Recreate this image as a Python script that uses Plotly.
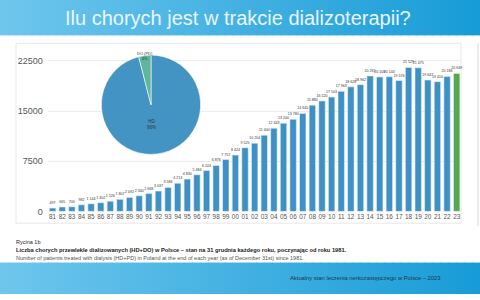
import plotly.graph_objects as go

years = ["81","82","83","84","85","86","87","88","89","90","91","92","93","94","95","96","97","98","99",
         "00","01","02","03","04","05","06","07","08","09","10","11","12","13","14","15","16","17","18","19","20","21","22","23"]
patients = [497, 665, 700, 982, 1144, 1302, 1526, 1807, 2092, 2340, 2668, 3037, 3586, 4213, 4830, 5484, 6103, 6876, 7752,
            8424, 9525, 10204, 11400, 12443, 13200, 13780, 14645, 15880, 16520, 17103, 17963, 18628, 18962, 20261, 20109,
            20144, 19576, 21529, 21475, 19647, 19410, 20186, 20639]
pie_labels = ["HD", "DO (PD)"]
pie_values = [96, 4]
y_ticks = [0, 7500, 15000, 22500]

W, H = 480, 300
def px(x): return x / W
def py(y): return 1 - y / H

bar_colors = ["#3f91c5"] * (len(years) - 1) + ["#58a84f"]
bar_text = [f"{v:,}".replace(",", " ") for v in patients]

fig = go.Figure()
fig.add_trace(go.Bar(
    x=years, y=patients, marker=dict(color=bar_colors, line=dict(color="#e4eef5", width=0.6)),
    text=bar_text, textposition="outside", cliponaxis=False, constraintext="none",
    textfont=dict(size=3.6, color="#333333", family="Liberation Sans"),
    showlegend=False, hoverinfo="x+y"))

fig.add_trace(go.Pie(
    labels=pie_labels, values=pie_values, sort=False, direction="clockwise", rotation=0,
    marker=dict(colors=["#4494c3", "#5eb69c"], line=dict(color="#ffffff", width=0.6)),
    textinfo="none", showlegend=False,
    domain=dict(x=[px(99), px(203)], y=[py(157), py(56)])))

shapes = []
# gradient banners
n = 60
c0, c1 = (110, 198, 237), (24, 156, 215)
for i in range(n):
    t = i / (n - 1)
    col = "rgb(%d,%d,%d)" % tuple(round(a + (b - a) * t) for a, b in zip(c0, c1))
    for (y0, y1) in [(0, 36), (267, 299)]:
        shapes.append(dict(type="rect", xref="paper", yref="paper", layer="below",
                           x0=px(i * W / n), x1=px((i + 1) * W / n + 0.6), y0=py(y1), y1=py(y0),
                           line=dict(width=0), fillcolor=col))
# chart box
shapes.append(dict(type="rect", xref="paper", yref="paper", layer="below",
                   x0=px(16), x1=px(461), y0=py(227), y1=py(44),
                   line=dict(color="#e8e8e8", width=1), fillcolor="rgba(0,0,0,0)"))
shapes.append(dict(type="line", xref="paper", yref="paper", x0=px(478), x1=px(478), y0=py(230), y1=py(44),
                   line=dict(color="#d8d8d8", width=1)))

def note(text, x, y, size, color, xanchor="center"):
    return dict(text=text, x=px(x), y=py(y), xref="paper", yref="paper", xanchor=xanchor, yanchor="middle",
                showarrow=False, font=dict(size=size, color=color, family="Liberation Sans"))

ann = [
    note("Ilu chorych jest w trakcie dializoterapii?", 238, 18, 20, "#eaf6fc"),
    note("Rycina 1b", 14, 246, 5.5, "#222222", "left"),
    note("<b>Liczba chorych przewlekle dializowanych (HD+DO) w Polsce – stan na 31 grudnia każdego roku, poczynając od roku 1981.</b>",
         14, 254, 5.7, "#222222", "left"),
    note("Number of patients treated with dialysis (HD+PD) in Poland at the end of each year (as of December 31st) since 1981.",
         14, 262, 5.5, "#555555", "left"),
    note("Aktualny stan leczenia nerkozastępczego w Polsce – 2023", 443, 283, 5.8, "#1e3550", "right"),
    note(f"{pie_labels[0]}<br>{pie_values[0]}%", 151, 127, 4.5, "#333333"),
    note(f"{pie_labels[1]}<br>{pie_values[1]}%", 145, 57, 4, "#333333"),
]

fig.update_layout(
    width=W, height=H, margin=dict(l=0, r=0, t=0, b=0),
    paper_bgcolor="white", plot_bgcolor="rgba(0,0,0,0)",
    bargap=0.33, shapes=shapes, annotations=ann,
    xaxis=dict(domain=[px(47.8), px(461.5)], type="category", showgrid=False, ticks="",
               tickfont=dict(size=6.4, color="#555555", family="Liberation Sans"), showline=False),
    yaxis=dict(domain=[py(215), py(50)], range=[0, 22500 * 165 / 153], tickvals=y_ticks,
               ticktext=[str(v) for v in y_ticks], showgrid=True, gridcolor="#ececec", gridwidth=1,
               zeroline=False, ticks="", ticklabelstandoff=4,
               tickfont=dict(size=9, color="#555555", family="Liberation Sans")),
)
fig.write_html("out.html")
